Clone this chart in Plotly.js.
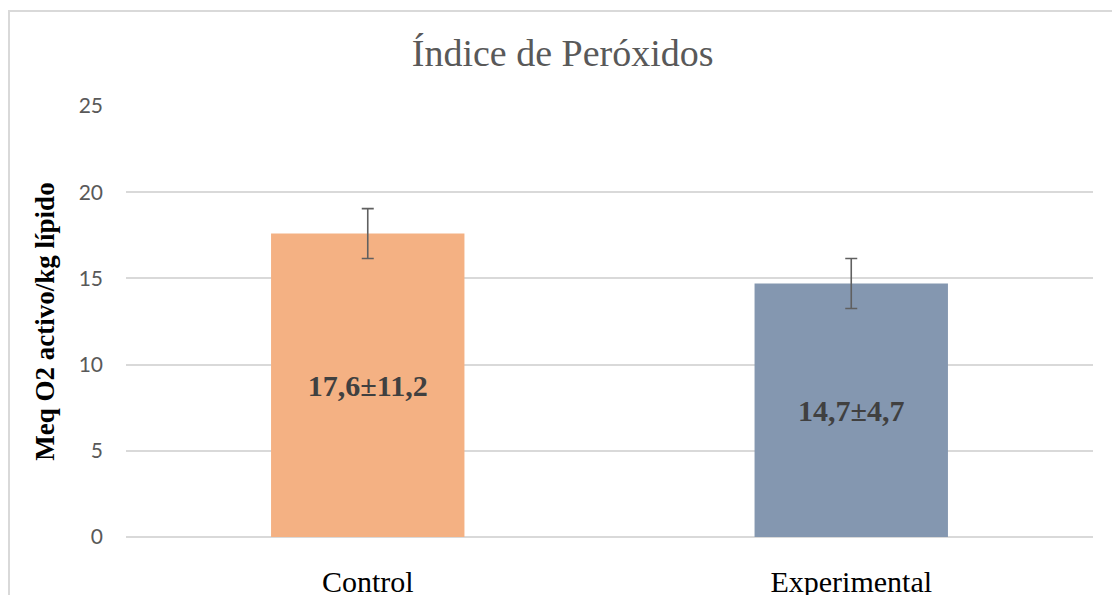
<!DOCTYPE html>
<html>
<head>
<meta charset="utf-8">
<script src="https://cdn.plot.ly/plotly-3.0.1.min.js"></script>
<style>
  html, body { margin: 0; padding: 0; background: #fff; }
  #wrap { position: relative; width: 1112px; height: 595px; overflow: hidden; }
  #chart { width: 1112px; height: 595px; }
  #frame { position: absolute; left: 8px; top: 10px; width: 1200px; height: 700px;
           border-left: 2px solid #d9d9d9; border-top: 2px solid #d9d9d9; pointer-events: none; }
</style>
</head>
<body>
<div id="wrap">
  <div id="chart"></div>
  <div id="frame"></div>
</div>
<script>
const categories = ['Control', 'Experimental'];
const values = [17.6, 14.7];
const errors = [1.45, 1.45];
const barLabels = ['17,6±11,2', '14,7±4,7'];
const barColors = ['#F4B183', '#8497B0'];
const yTicks = [0, 5, 10, 15, 20, 25];

const trace = {
  type: 'bar',
  x: categories,
  y: values,
  width: 0.4,
  marker: { color: barColors },
  error_y: { type: 'data', array: errors, visible: true, color: '#606060', thickness: 1.6, width: 6 },
  text: barLabels,
  textposition: 'inside',
  insidetextanchor: 'middle',
  textangle: 0,
  textfont: { family: 'Liberation Serif, Times New Roman, serif', size: 30, color: '#404040', weight: 'bold' },
  hoverinfo: 'none'
};

const layout = {
  width: 1112, height: 595,
  margin: { l: 126, r: 19, t: 106, b: 58 },
  paper_bgcolor: '#fff', plot_bgcolor: '#fff',
  showlegend: false,
  title: {
    text: 'Índice de Peróxidos',
    font: { family: 'Liberation Serif, Times New Roman, serif', size: 38, color: '#595959' },
    x: 0.506, xanchor: 'center', y: 0.912, yanchor: 'middle', yref: 'container'
  },
  xaxis: {
    type: 'category',
    showgrid: false, zeroline: false, showline: false, ticks: '',
    tickfont: { family: 'Liberation Serif, Times New Roman, serif', size: 30, color: '#000' },
    ticklabelstandoff: 24
  },
  yaxis: {
    range: [0, 25], tickvals: yTicks, ticktext: yTicks.map(String),
    showgrid: true, gridcolor: '#d9d9d9', gridwidth: 1.8,
    zeroline: true, zerolinecolor: '#d9d9d9', zerolinewidth: 1.8,
    showline: false, ticks: '',
    tickfont: { family: 'Lato, Open Sans, sans-serif', size: 21, color: '#595959' },
    ticklabelstandoff: 22,
    title: {
      text: 'Meq O2 activo/kg lípido',
      font: { family: 'Liberation Serif, Times New Roman, serif', size: 27, color: '#000', weight: 'bold' },
      standoff: 16
    }
  }
};

Plotly.newPlot('chart', [trace], layout, { staticPlot: true, displayModeBar: false });
</script>
</body>
</html>
